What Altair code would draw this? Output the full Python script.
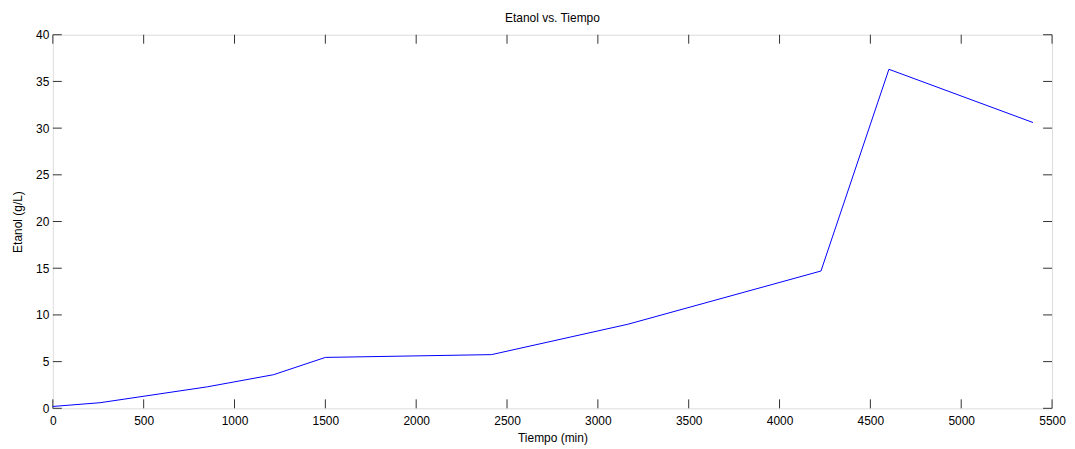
import altair as alt
import pandas as pd

tiempo = [0, 260, 850, 1215, 1500, 2415, 3165, 4228, 4602, 5395]
etanol = [0.2, 0.6, 2.3, 3.6, 5.45, 5.75, 9.0, 14.7, 36.3, 30.6]
x_ticks = [0, 500, 1000, 1500, 2000, 2500, 3000, 3500, 4000, 4500, 5000, 5500]
y_ticks = [0, 5, 10, 15, 20, 25, 30, 35, 40]

W, H = 1003, 375
FONT = "Liberation Sans"

df = pd.DataFrame({"x": tiempo, "y": etanol})
dx = pd.DataFrame({"x": x_ticks})
dy = pd.DataFrame({"y": y_ticks})

xs = alt.Scale(domain=[0, 5500], nice=False, zero=False)
ys = alt.Scale(domain=[0, 40], nice=False, zero=False)

x_axis = alt.Axis(values=x_ticks, title="Tiempo (min)", tickSize=0, domain=False, grid=False,
                  format="d", labelPadding=7, labelFontSize=12, labelFont=FONT, labelColor="black",
                  titleFont=FONT, titleFontSize=12, titleFontWeight="normal", titleColor="black",
                  titlePadding=6, labelFlush=False, labelOverlap=False)
y_axis = alt.Axis(values=y_ticks, title="Etanol (g/L)", tickSize=0, domain=False, grid=False,
                  format="d", labelPadding=4, labelFontSize=12, labelFont=FONT, labelColor="black",
                  titleFont=FONT, titleFontSize=12, titleFontWeight="normal", titleColor="black",
                  titlePadding=11, labelFlush=False, labelOverlap=False)

X = alt.X("x:Q", scale=xs, axis=x_axis)
Y = alt.Y("y:Q", scale=ys, axis=y_axis)

line = alt.Chart(df).mark_line(color="#0000ff", strokeWidth=1).encode(x=X, y=Y)

tick_col = "#333333"
bottom = alt.Chart(dx).mark_rule(color=tick_col, strokeWidth=1).encode(
    x=X, y=alt.value(H), y2=alt.value(H - 9))
top = alt.Chart(dx).mark_rule(color=tick_col, strokeWidth=1).encode(
    x=X, y=alt.value(0), y2=alt.value(9))
left = alt.Chart(dy).mark_rule(color=tick_col, strokeWidth=1).encode(
    y=Y, x=alt.value(0), x2=alt.value(9))
right = alt.Chart(dy).mark_rule(color=tick_col, strokeWidth=1).encode(
    y=Y, x=alt.value(W), x2=alt.value(W - 9))

chart = alt.layer(bottom, top, left, right, line).properties(
    width=W, height=H,
    title=alt.TitleParams("Etanol vs. Tiempo", font=FONT, fontSize=12, fontWeight="normal",
                          color="black", offset=4),
    autosize=alt.AutoSizeParams(type="none"),
    padding={"left": 45, "top": 26, "right": 15, "bottom": 38},
).configure_view(stroke="black", strokeWidth=1.5).configure(background="white")

chart.save("out.html", embed_options={"renderer": "svg", "actions": False})
